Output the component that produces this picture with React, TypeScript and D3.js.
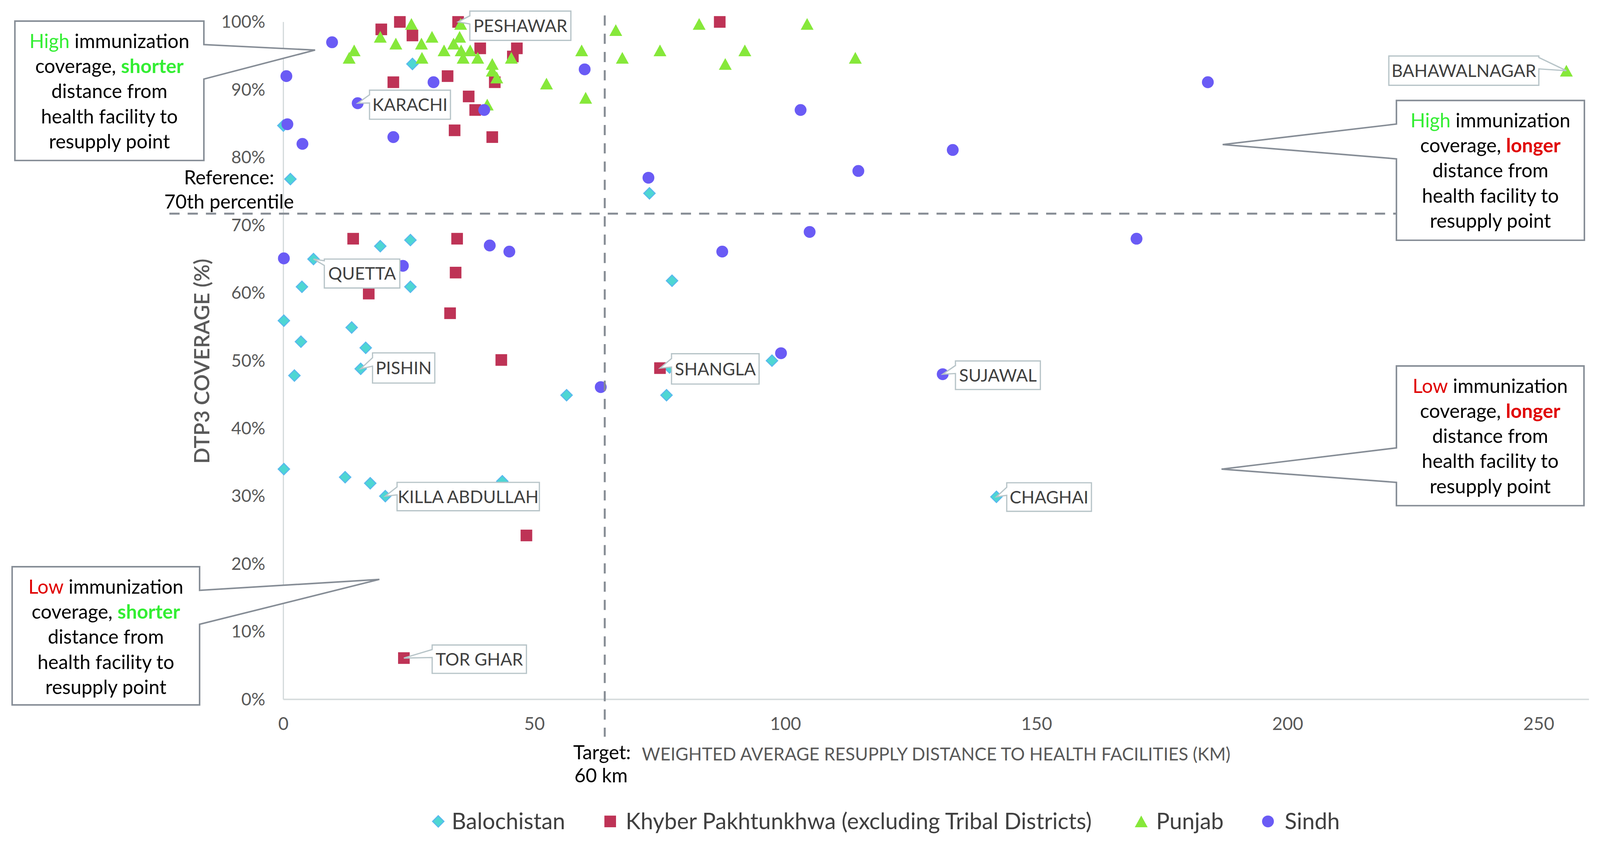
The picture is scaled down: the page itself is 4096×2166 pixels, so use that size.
import React from 'react';
import * as d3 from 'd3';

// each point: [weighted avg resupply distance (km), DTP3 coverage (%)]
const balochistan: [number, number][] = [
  [0, 84.7], [25.7, 93.8], [1.4, 76.8], [72.9, 74.7], [19.3, 66.9], [25.3, 67.8],
  [6.0, 65.0], [3.7, 60.9], [25.3, 60.9], [0.1, 55.9], [13.6, 54.9], [3.5, 52.8],
  [16.4, 51.9], [15.4, 48.8], [2.2, 47.8], [56.4, 44.9], [0.1, 34.0], [12.3, 32.8],
  [17.3, 31.9], [20.3, 30.0], [43.6, 32.2], [77.4, 61.8], [97.3, 50.0], [76.3, 44.9],
  [142.0, 29.9], [76.9, 49.0],
];

const khyberPakhtunkhwa: [number, number][] = [
  [19.5, 98.9], [23.2, 100], [25.7, 98.0], [34.8, 100], [39.2, 96.1], [46.5, 96.1],
  [45.7, 94.9], [32.7, 92.0], [21.9, 91.1], [42.1, 91.1], [36.9, 89.0], [38.2, 87.0],
  [34.1, 84.0], [41.6, 83.0], [86.9, 100], [13.9, 68.0], [34.6, 68.0], [34.3, 63.0],
  [17.0, 59.9], [33.2, 57.0], [43.4, 50.1], [48.4, 24.2], [24.0, 6.1], [75.0, 48.9],
];

const punjab: [number, number][] = [
  [25.5, 99.7], [35.3, 99.7], [19.3, 97.8], [22.4, 96.8], [27.5, 96.8], [29.6, 97.8],
  [35.1, 97.8], [33.9, 96.8], [14.1, 95.8], [13.1, 94.7], [32.0, 95.8], [35.4, 95.8],
  [37.2, 95.8], [27.6, 94.7], [35.8, 94.7], [38.7, 94.7], [45.4, 94.7], [41.6, 93.8],
  [41.6, 92.8], [42.5, 91.8], [59.4, 95.8], [67.5, 94.7], [52.4, 90.9], [60.2, 88.8],
  [40.6, 87.8], [66.2, 98.8], [82.8, 99.7], [104.3, 99.7], [75.0, 95.8], [91.9, 95.8],
  [88.0, 93.8], [113.9, 94.7], [255.5, 92.8],
];

const sindh: [number, number][] = [
  [9.7, 97.0], [0.6, 92.0], [29.9, 91.1], [60.0, 93.0], [14.8, 88.0], [40.0, 87.0],
  [0.8, 84.9], [3.8, 82.0], [21.9, 83.0], [103.0, 87.0], [133.3, 81.1], [114.5, 78.0],
  [72.7, 77.0], [184.1, 91.1], [169.9, 68.0], [104.8, 69.0], [87.4, 66.1], [99.1, 51.1],
  [63.2, 46.1], [131.3, 48.0], [0.1, 65.1], [41.1, 67.0], [45.0, 66.1], [23.8, 64.0],
];

const provinceNames = [
  'Balochistan',
  'Khyber Pakhtunkhwa (excluding Tribal Districts)',
  'Punjab',
  'Sindh',
];
const provinceSeries = [balochistan, khyberPakhtunkhwa, punjab, sindh];

const districtLabels = [
  { name: 'PESHAWAR', km: 34.8, pct: 100 },
  { name: 'KARACHI', km: 14.8, pct: 88.0 },
  { name: 'QUETTA', km: 6.0, pct: 65.0 },
  { name: 'PISHIN', km: 15.4, pct: 48.8 },
  { name: 'KILLA ABDULLAH', km: 20.3, pct: 30.0 },
  { name: 'TOR GHAR', km: 24.0, pct: 6.1 },
  { name: 'SHANGLA', km: 75.0, pct: 48.9 },
  { name: 'SUJAWAL', km: 131.3, pct: 48.0 },
  { name: 'CHAGHAI', km: 142.0, pct: 29.9 },
  { name: 'BAHAWALNAGAR', km: 255.5, pct: 92.8 },
];

const xTicks = [0, 50, 100, 150, 200, 250];
const yTicks = [0, 10, 20, 30, 40, 50, 60, 70, 80, 90, 100];
const targetKm = 64;
const referencePct = 71.7;

// ---- styling / layout (in 1568x829 units, scaled up by the viewBox) ----
const VW = 1568;
const VH = 829;
const FONT = 'Lato, "Open Sans", sans-serif';
const GREEN = '#33EE33';
const RED = '#E00000';

const shapes = ['diamond', 'square', 'triangle', 'circle'];
const fills = ['#4ED6D3', '#BE3356', '#86E83A', '#6A5BF5'];
const strokes = ['#58B8EE', '#BE3356', '#86E83A', '#6A5BF5'];

const labelLayout: Record<string, { dx: number; dy: number; w: number; h: number; side?: 'left' | 'right'; base?: [number, number] }> = {
  PESHAWAR: { dx: 11.5, dy: -10.6, w: 99, h: 28.7 },
  KARACHI: { dx: 11.6, dy: -12.8, w: 79.3, h: 28.5 },
  QUETTA: { dx: 10.6, dy: 0, w: 74, h: 28.4, base: [0.06, 0.22] },
  PISHIN: { dx: 11.6, dy: -15.6, w: 61, h: 29.6 },
  'KILLA ABDULLAH': { dx: 11.5, dy: -13.5, w: 139.5, h: 27.8 },
  'TOR GHAR': { dx: 27.7, dy: -12.8, w: 92.4, h: 27.8 },
  SHANGLA: { dx: 11.3, dy: -14.1, w: 85.8, h: 29.7 },
  SUJAWAL: { dx: 12.5, dy: -13, w: 83.2, h: 28 },
  CHAGHAI: { dx: 10.1, dy: -13.8, w: 83, h: 28 },
  BAHAWALNAGAR: { dx: -174, dy: -14.4, w: 147, h: 28.7, side: 'right', base: [0.05, 0.44] },
};

type Seg = { t: string; c?: string; b?: boolean };
const quadrantNotes: { box: [number, number, number, number]; side: 'left' | 'right'; base: [number, number]; tip: [number, number]; lines: Seg[][] }[] = [
  {
    box: [14.6, 20.6, 185.2, 136.6], side: 'right', base: [43.6, 77.4], tip: [308.8, 49],
    lines: [
      [{ t: 'High', c: GREEN }, { t: ' immunization' }],
      [{ t: 'coverage, ' }, { t: 'shorter', c: GREEN, b: true }],
      [{ t: 'distance from' }], [{ t: 'health facility to' }], [{ t: 'resupply point' }],
    ],
  },
  {
    box: [1368.5, 98.4, 184.2, 137], side: 'left', base: [121.5, 155.6], tip: [1198.2, 141.6],
    lines: [
      [{ t: 'High', c: GREEN }, { t: ' immunization' }],
      [{ t: 'coverage, ' }, { t: 'longer', c: RED, b: true }],
      [{ t: 'distance from' }], [{ t: 'health facility to' }], [{ t: 'resupply point' }],
    ],
  },
  {
    box: [1368.5, 358.6, 183.8, 136.9], side: 'left', base: [438.9, 472.7], tip: [1197.1, 459.7],
    lines: [
      [{ t: 'Low', c: RED }, { t: ' immunization' }],
      [{ t: 'coverage, ' }, { t: 'longer', c: RED, b: true }],
      [{ t: 'distance from' }], [{ t: 'health facility to' }], [{ t: 'resupply point' }],
    ],
  },
  {
    box: [11.9, 555.4, 183.7, 135.4], side: 'right', base: [578.5, 611.8], tip: [371.8, 567.8],
    lines: [
      [{ t: 'Low', c: RED }, { t: ' immunization' }],
      [{ t: 'coverage, ' }, { t: 'shorter', c: GREEN, b: true }],
      [{ t: 'distance from' }], [{ t: 'health facility to' }], [{ t: 'resupply point' }],
    ],
  },
];

const legendPos = [
  { mx: 429.5, tx: 442.6 },
  { mx: 598, tx: 613.2 },
  { mx: 1118.4, tx: 1133 },
  { mx: 1242.6, tx: 1259 },
];

function calloutPath(bx: number, by: number, bw: number, bh: number, side: 'left' | 'right', b1: number, b2: number, tip: [number, number]) {
  const x0 = bx, x1 = bx + bw, y0 = by, y1 = by + bh;
  if (side === 'left') {
    return `M${x0},${y0}H${x1}V${y1}H${x0}V${b2}L${tip[0]},${tip[1]}L${x0},${b1}Z`;
  }
  return `M${x0},${y0}H${x1}V${b1}L${tip[0]},${tip[1]}L${x1},${b2}V${y1}H${x0}Z`;
}

function Marker({ shape, cx, cy, i }: { shape: string; cx: number; cy: number; i: number }) {
  const fill = fills[i];
  const stroke = strokes[i];
  if (shape === 'diamond') {
    const r = 5.6;
    return <path d={`M${cx},${cy - r}L${cx + r},${cy}L${cx},${cy + r}L${cx - r},${cy}Z`} fill={fill} stroke={stroke} strokeWidth={1} />;
  }
  if (shape === 'square') {
    const s = 11.4;
    return <rect x={cx - s / 2} y={cy - s / 2} width={s} height={s} fill={fill} />;
  }
  if (shape === 'triangle') {
    const hw = 6.3, hh = 5.75;
    return <path d={`M${cx},${cy - hh}L${cx + hw},${cy + hh}L${cx - hw},${cy + hh}Z`} fill={fill} />;
  }
  return <circle cx={cx} cy={cy} r={5.8} fill={fill} />;
}

const App: React.FC = () => {
  const x = d3.scaleLinear().domain([0, 260]).range([277.7, 1557.2]);
  const y = d3.scaleLinear().domain([0, 100]).range([685.4, 21.4]);

  const axisColor = '#D5DBDC';
  const dashColor = '#868C94';
  const tickColor = '#595959';

  return (
    <div style={{ position: 'fixed', left: 0, top: 0, background: '#fff' }}>
      <svg width={4096} height={2166} viewBox={`0 0 ${VW} ${VH}`} style={{ display: 'block', fontFamily: FONT }}>
        <rect x={0} y={0} width={VW} height={VH} fill="#fff" />

        {/* axes */}
        <line x1={x(0)} x2={x(0)} y1={y(100)} y2={y(0)} stroke={axisColor} strokeWidth={1.2} />
        <line x1={x(0)} x2={x(260)} y1={y(0)} y2={y(0)} stroke={axisColor} strokeWidth={1.4} />

        {yTicks.map(t => (
          <text key={'y' + t} x={260} y={y(t) + 5.8} textAnchor="end" fontSize={17} fill={tickColor}>{`${t}%`}</text>
        ))}
        {xTicks.map(t => (
          <text key={'x' + t} x={x(t)} y={715.5} textAnchor="middle" fontSize={17.5} fill={tickColor}>{t}</text>
        ))}

        {/* axis titles */}
        <text transform="translate(205,354) rotate(-90)" textAnchor="middle" fontSize={20.8} fill={tickColor} fontWeight={600}>DTP3 COVERAGE (%)</text>
        <text x={629} y={745.2} fontSize={17.4} fill={tickColor}>WEIGHTED AVERAGE RESUPPLY DISTANCE TO HEALTH FACILITIES (KM)</text>
        <text x={590} y={744} textAnchor="middle" fontSize={19} fill="#000">Target:</text>
        <text x={589} y={766.6} textAnchor="middle" fontSize={19} fill="#000">{`${60} km`}</text>
        <text x={224.5} y={180.5} textAnchor="middle" fontSize={19} fill="#000">Reference:</text>
        <text x={224.5} y={204.3} textAnchor="middle" fontSize={19} fill="#000">70th percentile</text>

        {/* points */}
        {provinceSeries.map((series, i) => (
          <g key={provinceNames[i]}>
            {series.map((d, j) => (
              <Marker key={j} shape={shapes[i]} cx={x(d[0])} cy={y(d[1])} i={i} />
            ))}
          </g>
        ))}

        {/* target / reference lines */}
        <line x1={x(targetKm)} x2={x(targetKm)} y1={15} y2={722} stroke={dashColor} strokeWidth={1.9} strokeDasharray="10 7.9" />
        <line x1={166} x2={1368.5} y1={y(referencePct)} y2={y(referencePct)} stroke={dashColor} strokeWidth={2} strokeDasharray="10 7.9" />

        {/* district callouts */}
        {districtLabels.map(l => {
          const L = labelLayout[l.name];
          const px = x(l.km), py = y(l.pct);
          const bx = px + L.dx, by = py + L.dy;
          const side = L.side || 'left';
          const base = L.base || [0.16, 0.44];
          return (
            <g key={l.name}>
              <path d={calloutPath(bx, by, L.w, L.h, side, by + base[0] * L.h, by + base[1] * L.h, [px, py])}
                fill="#fff" stroke="#B7C4C8" strokeWidth={1.2} />
              <text x={bx + L.w / 2} y={by + L.h / 2 + 6.2} textAnchor="middle" fontSize={17} fill="#404040">{l.name}</text>
            </g>
          );
        })}

        {/* quadrant notes */}
        {quadrantNotes.map((q, k) => {
          const [bx, by, bw, bh] = q.box;
          return (
            <g key={'q' + k}>
              <path d={calloutPath(bx, by, bw, bh, q.side, q.base[0], q.base[1], q.tip)} fill="#fff" stroke="#868D96" strokeWidth={1.5} />
              {q.lines.map((segs, li) => (
                <text key={li} x={bx + bw / 2} y={by + 26.3 + li * 24.6} textAnchor="middle" fontSize={19} fill="#000">
                  {segs.map((s, si) => (
                    <tspan key={si} fill={s.c || '#000'} fontWeight={s.b ? 700 : 400}>{s.t}</tspan>
                  ))}
                </text>
              ))}
            </g>
          );
        })}

        {/* legend */}
        {provinceNames.map((n, i) => (
          <g key={'lg' + i}>
            <Marker shape={shapes[i]} cx={legendPos[i].mx} cy={805} i={i} />
            <text x={legendPos[i].tx} y={812.6} fontSize={22} fill="#404040">{n}</text>
          </g>
        ))}
      </svg>
    </div>
  );
};

export default App;
